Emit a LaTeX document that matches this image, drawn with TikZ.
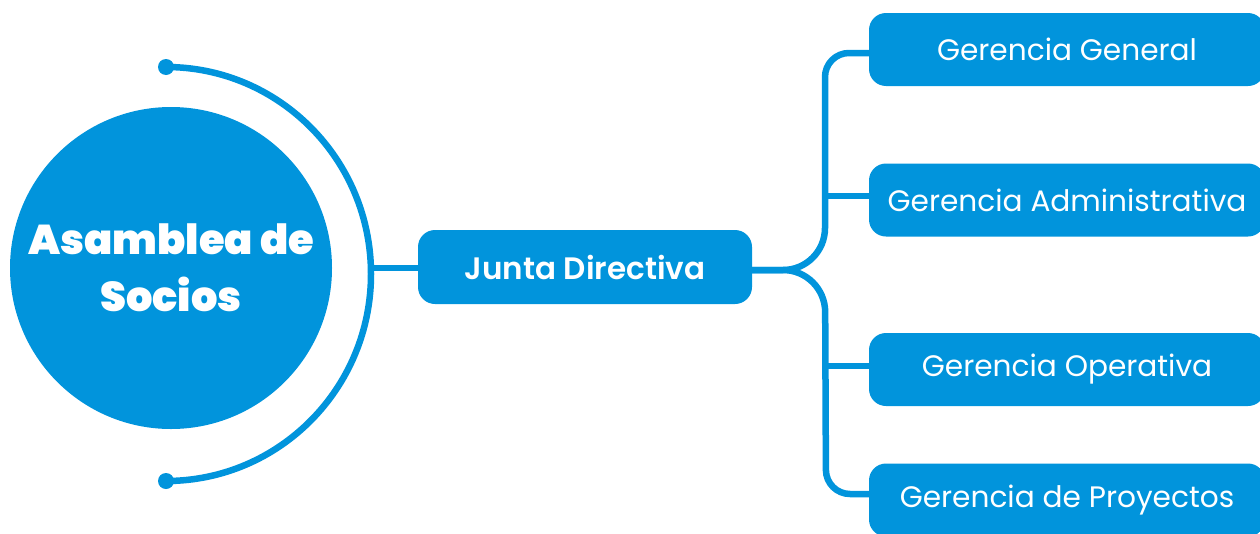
\documentclass[tikz,border=0pt]{standalone}
\usepackage{fontspec}
\setmainfont{Poppins}
\newfontfamily\pblack{Poppins Black}
\newfontfamily\psemi{Poppins SemiBold}
\definecolor{blu}{RGB}{1,148,220}
\begin{document}
\begin{tikzpicture}[x=1pt,y=-1pt,
  link/.style={draw=blu,line width=6.5pt},
  gbox/.style={fill=blu,rounded corners=17pt,minimum width=396pt,minimum height=73pt,
    text=white,font=\fontsize{29.6}{34}\selectfont,inner sep=0pt},
  jbox/.style={fill=blu,rounded corners=17pt,minimum width=334pt,minimum height=74pt,
    text=white,font=\psemi\fontsize{31}{36}\selectfont,inner sep=0pt}]
\useasboundingbox (0,0) rectangle (1260,533);
\clip (0,0) rectangle (1260,533);
% circle
\node[circle,fill=blu,minimum size=322pt,inner sep=0pt,text=white,align=center,
  font=\pblack\fontsize{41.6}{57}\selectfont] (A) at (171,268) {Asamblea de\\Socios};
% arc
\coordinate (arcT) at (166,67);
\coordinate (arcB) at (166,481);
\coordinate (arcR) at (371,268);
\draw[link] (arcT) arc[start angle=-90,end angle=90,x radius=205,y radius=207];
\fill[blu] (arcT) circle[radius=8];
\fill[blu] (arcB) circle[radius=8];
% junta
\node[jbox] (J) at (585,267) {Junta Directiva};
\draw[link] (arcR) -- (J.west |- arcR);
% gerencias
\node[gbox] (G1) at (1067,49.5) {Gerencia General};
\node[gbox] (G2) at (1067,200) {Gerencia Administrativa};
\node[gbox] (G3) at (1067,369.5) {Gerencia Operativa};
\node[gbox] (G4) at (1067,500) {Gerencia de Proyectos};
\coordinate (jn) at (752,270);
\coordinate (tr) at (825,270);
\coordinate (t1) at (825,53);
\coordinate (t2) at (825,196);
\coordinate (t3) at (825,366);
\coordinate (t4) at (826,494);
\draw[link] (jn) [rounded corners=42pt] -- (tr) [rounded corners=24pt] -- (t1) -- (G1.west |- t1);
\draw[link] (jn) [rounded corners=42pt] -- (tr) [rounded corners=24pt] -- (t4) -- (G4.west |- t4);
\draw[link] (t2) -- (G2.west |- t2);
\draw[link] (t3) -- (G3.west |- t3);
\end{tikzpicture}
\end{document}
